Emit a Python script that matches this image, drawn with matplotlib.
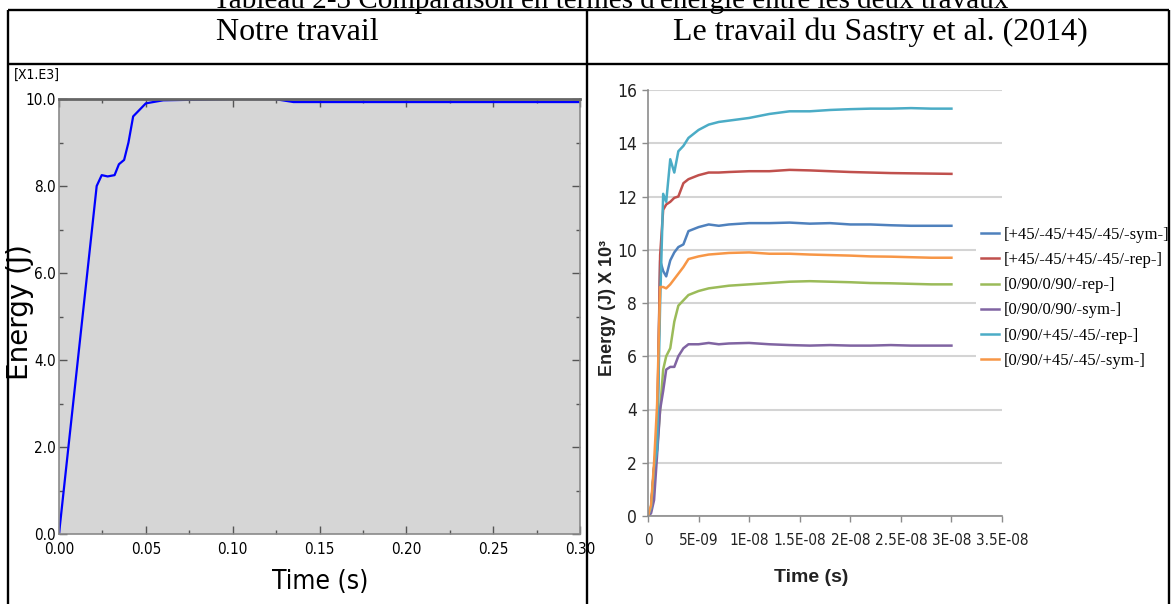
import matplotlib
matplotlib.use("Agg")
import matplotlib.pyplot as plt
from matplotlib.lines import Line2D
from matplotlib.ticker import MultipleLocator, FixedLocator

# ---------------- data ----------------
# Left panel: "Notre travail" (energy in 1E3 J)
t_left = [0.0, 0.0217, 0.0246, 0.028, 0.032, 0.0345, 0.0375, 0.040, 0.0427, 0.050, 0.060, 0.100, 0.124, 0.135, 0.300]
e_left = [0.0, 8.0, 8.25, 8.22, 8.25, 8.5, 8.6, 9.0, 9.6, 9.9, 9.97, 10.0, 10.0, 9.93, 9.93]
left_xticklabels = ["0.00", "0.05", "0.10", "0.15", "0.20", "0.25", "0.30"]
left_yticklabels = ["0.0", "2.0", "4.0", "6.0", "8.0", "10.0"]

# Right panel: Sastry et al. (2014), time in 1E-09 s, energy in 1E3 J
t_right_ns = [0, 0.3, 0.6, 0.9, 1.2, 1.5, 1.8, 2.2, 2.6, 3.0, 3.5, 4.0, 5.0, 6.0, 7.0, 8.0,
              10, 12, 14, 16, 18, 20, 22, 24, 26, 28, 30]
sym_45 = [0, 0.3, 1.8, 2.8, 9.6, 9.2, 9.0, 9.6, 9.9, 10.1, 10.2, 10.7, 10.85, 10.95, 10.9, 10.95,
          11.0, 11.0, 11.02, 10.98, 11.0, 10.95, 10.95, 10.92, 10.9, 10.9, 10.9]
rep_45 = [0, 0.3, 1.8, 3.0, 9.8, 11.5, 11.7, 11.8, 11.95, 12.0, 12.5, 12.65, 12.8, 12.9, 12.9, 12.92,
          12.95, 12.95, 13.0, 12.98, 12.95, 12.92, 12.9, 12.88, 12.87, 12.86, 12.85]
rep_090 = [0, 0.2, 1.7, 2.5, 4.0, 5.5, 6.0, 6.3, 7.3, 7.9, 8.1, 8.3, 8.45, 8.55, 8.6, 8.65,
           8.7, 8.75, 8.8, 8.82, 8.8, 8.78, 8.75, 8.74, 8.72, 8.7, 8.7]
sym_090 = [0, 0.1, 0.6, 2.3, 4.0, 4.7, 5.5, 5.6, 5.6, 6.0, 6.3, 6.45, 6.45, 6.5, 6.45, 6.48,
           6.5, 6.45, 6.42, 6.4, 6.42, 6.4, 6.4, 6.42, 6.4, 6.4, 6.4]
rep_mix = [0, 0.3, 1.8, 2.5, 8.0, 12.1, 11.8, 13.4, 12.9, 13.7, 13.9, 14.2, 14.5, 14.7, 14.8, 14.85,
           14.95, 15.1, 15.2, 15.2, 15.25, 15.28, 15.3, 15.3, 15.32, 15.3, 15.3]
sym_mix = [0, 0.4, 2.0, 4.2, 8.6, 8.6, 8.55, 8.7, 8.9, 9.1, 9.35, 9.65, 9.75, 9.82, 9.85, 9.88,
           9.9, 9.85, 9.85, 9.82, 9.8, 9.78, 9.75, 9.74, 9.72, 9.7, 9.7]
series_labels = ["[+45/-45/+45/-45/-sym-]", "[+45/-45/+45/-45/-rep-]", "[0/90/0/90/-rep-]",
                 "[0/90/0/90/-sym-]", "[0/90/+45/-45/-rep-]", "[0/90/+45/-45/-sym-]"]
series_colors = ["#4f81bd", "#c0504d", "#9bbb59", "#8064a2", "#4bacc6", "#f79646"]
right_xticklabels = ["0", "5E-09", "1E-08", "1.5E-08", "2E-08", "2.5E-08", "3E-08", "3.5E-08"]
right_yticklabels = ["0", "2", "4", "6", "8", "10", "12", "14", "16"]

header_left = "Notre travail"
header_right = "Le travail du Sastry et al. (2014)"
caption = "Tableau 2-3 Comparaison en termes d'énergie entre les deux travaux"

# ---------------- figure ----------------
W, H = 1172, 604
fig = plt.figure(figsize=(W / 100, H / 100), dpi=100)
fig.patch.set_facecolor("white")


def rect(x0, y0, x1, y1):
    return [x0 / W, 1 - y1 / H, (x1 - x0) / W, (y1 - y0) / H]


def fx(x):
    return x / W


def fy(y):
    return 1 - y / H


serif = ["Liberation Serif", "DejaVu Serif"]
cond = {"family": ["DejaVu Sans"], "stretch": "condensed"}
sans = ["Liberation Sans", "DejaVu Sans"]

# table lines
for (x0, y0, x1, y1) in [(8, 10, 1169, 10), (8, 64, 1169, 64), (8, 10, 8, 604),
                         (1169, 10, 1169, 604), (587, 10, 587, 604)]:
    fig.add_artist(Line2D([fx(x0), fx(x1)], [fy(y0), fy(y1)], transform=fig.transFigure,
                          color="black", lw=1.7, zorder=20, solid_capstyle="butt"))

fig.text(fx(611), fy(8), caption, family=serif, fontsize=21, ha="center", va="baseline")
fig.text(fx(297), fy(32), header_left, family=serif, fontsize=23, ha="center", va="center")
fig.text(fx(880), fy(32), header_right, family=serif, fontsize=23, ha="center", va="center")

# ---------------- left panel ----------------
ax1 = fig.add_axes(rect(59, 99, 580, 534))
ax1.set_facecolor("#d6d6d6")
ax1.plot(t_left, e_left, color="#0000ff", lw=1.6)
ax1.set_xlim(0, 0.30)
ax1.set_ylim(0, 10)
ax1.xaxis.set_major_locator(FixedLocator([0.0, 0.05, 0.10, 0.15, 0.20, 0.25, 0.30]))
ax1.set_xticklabels(left_xticklabels)
ax1.yaxis.set_major_locator(FixedLocator([0, 2, 4, 6, 8, 10]))
ax1.set_yticklabels(left_yticklabels)
ax1.xaxis.set_minor_locator(MultipleLocator(0.025))
ax1.yaxis.set_minor_locator(MultipleLocator(1.0))
ax1.tick_params(which="both", direction="in", top=True, right=True, colors="#555555",
                labelcolor="black", labelsize=11)
ax1.tick_params(axis="x", pad=6)
ax1.tick_params(axis="y", pad=2)
ax1.tick_params(which="major", length=6, width=1)
ax1.tick_params(which="minor", length=3, width=1)
for lab in ax1.get_xticklabels() + ax1.get_yticklabels():
    lab.set_family(cond["family"])
    lab.set_stretch(cond["stretch"])
for s in ax1.spines.values():
    s.set_color("#8a8a8a")
    s.set_linewidth(1.2)
ax1.spines["top"].set_color("#666666")
ax1.spines["top"].set_linewidth(2)

fig.text(fx(37), fy(75), "[X1.E3]", fontsize=10, ha="center", va="center", **cond)
fig.text(fx(20), fy(312), "Energy (J)", family=["DejaVu Sans"], fontsize=20, rotation=90,
         ha="center", va="center")
fig.text(fx(320), fy(582), "Time (s)", fontsize=19, ha="center", va="center", **cond)

# ---------------- right panel ----------------
ax2 = fig.add_axes(rect(648, 90, 1002, 516))
t_right = [v * 1e-9 for v in t_right_ns]
all_series = [sym_45, rep_45, rep_090, sym_090, rep_mix, sym_mix]
handles = []
for ys, c, lab in zip(all_series, series_colors, series_labels):
    h, = ax2.plot(t_right, ys, color=c, lw=1.8, label=lab)
    handles.append(h)
ax2.set_xlim(0, 3.5e-8)
ax2.set_ylim(0, 16)
ax2.xaxis.set_major_locator(FixedLocator([i * 5e-9 for i in range(8)]))
ax2.set_xticklabels(right_xticklabels)
ax2.yaxis.set_major_locator(FixedLocator(list(range(0, 17, 2))))
ax2.set_yticklabels(right_yticklabels)
ax2.grid(axis="y", color="#d4d4d4", lw=1.5)
ax2.set_axisbelow(True)
for side in ["top", "right"]:
    ax2.spines[side].set_visible(False)
for side in ["left", "bottom"]:
    ax2.spines[side].set_color("#8c8c8c")
    ax2.spines[side].set_linewidth(1.2)
ax2.tick_params(direction="out", length=4, width=1, colors="#8c8c8c", labelcolor="#222222",
                labelsize=12.5)
ax2.tick_params(axis="x", pad=8, labelsize=11)
ax2.tick_params(axis="y", pad=4)
for lab in ax2.get_xticklabels() + ax2.get_yticklabels():
    lab.set_family(cond["family"])
    lab.set_stretch(cond["stretch"])

fig.text(fx(608), fy(308), "Energy (J) X 10³", family=sans, fontsize=13, fontweight="bold",
         rotation=90, ha="center", va="center", color="#222222")
fig.text(fx(811), fy(577), "Time (s)", family=sans, fontsize=14, fontweight="bold",
         ha="center", va="center", color="#222222")

leg = fig.legend(handles=handles, labels=series_labels, loc="upper left",
                 bbox_to_anchor=(fx(976), fy(222)), bbox_transform=fig.transFigure,
                 prop={"family": serif, "size": 12}, frameon=True, facecolor="white",
                 edgecolor="none", framealpha=1, handlelength=1.1, handletextpad=0.25,
                 labelspacing=0.55, borderpad=0.3, borderaxespad=0)

fig.savefig("out.png", dpi=100)
